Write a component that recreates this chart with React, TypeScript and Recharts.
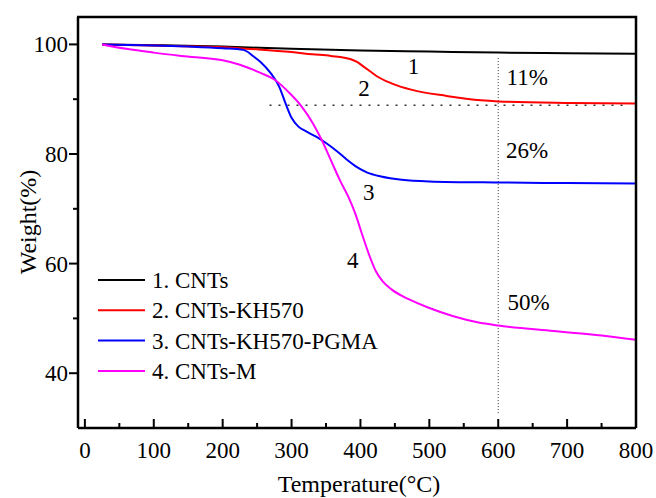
import React from "react"
import { LineChart, Line, XAxis, YAxis, ReferenceLine, ReferenceDot } from "recharts"

const FONT = "Liberation Serif, Times New Roman, serif"

// temperature (°C) and weight (%)
const cntsT = [25, 100, 200, 300, 400, 500, 600, 700, 800]
const cntsW = [100, 99.85, 99.6, 99.2, 98.9, 98.7, 98.5, 98.4, 98.3]

const kh570T = [25, 100, 200, 250, 300, 330, 357, 386, 395, 405, 415, 425, 445, 475, 525, 575, 600, 700, 800]
const kh570W = [100, 99.8, 99.5, 99.1, 98.6, 98.2, 97.9, 97.3, 96.8, 95.9, 95.0, 94.1, 92.9, 91.7, 90.6, 89.8, 89.6, 89.3, 89.2]

const pgmaT = [25, 100, 150, 200, 230, 245, 255, 270, 282, 292, 300, 310, 320, 335, 350, 365, 380, 395, 410, 430, 460, 500, 600, 700, 800]
const pgmaW = [100, 99.8, 99.6, 99.3, 99.0, 97.8, 96.8, 94.7, 92.3, 89.0, 86.6, 85.0, 84.2, 83.2, 82.0, 80.6, 79.0, 77.6, 76.6, 75.9, 75.3, 75.0, 74.8, 74.7, 74.6]

const cntsMT = [25, 60, 100, 140, 200, 225, 255, 275, 298, 315, 330, 344, 358, 371, 382, 392, 402, 412, 422, 432, 445, 470, 500, 535, 570, 600, 680, 750, 800]
const cntsMW = [100, 99.2, 98.5, 97.9, 97.1, 96.3, 94.8, 93.6, 91.0, 88.6, 85.8, 82.5, 78.6, 75.0, 72.3, 69.3, 65.5, 61.8, 58.7, 56.8, 55.3, 53.5, 51.9, 50.4, 49.3, 48.7, 47.7, 46.9, 46.1]

const seriesNames = ["1. CNTs", "2. CNTs-KH570", "3. CNTs-KH570-PGMA", "4. CNTs-M"]
const seriesColors = ["#000000", "#ff0000", "#0000ff", "#ff00ff"]

const xTicks = [0, 50, 100, 150, 200, 250, 300, 350, 400, 450, 500, 550, 600, 650, 700, 750, 800]
const yTicks = [40, 50, 60, 70, 80, 90, 100]

// curve number labels and residue percentages
const notes = [
  { t: 477, w: 96.1, text: "1" },
  { t: 405, w: 92.0, text: "2" },
  { t: 412, w: 73.1, text: "3" },
  { t: 389, w: 60.6, text: "4" },
  { t: 642, w: 94.0, text: "11%" },
  { t: 642, w: 80.7, text: "26%" },
  { t: 644, w: 53.0, text: "50%" },
]

const zip = (ts: number[], ws: number[]) => ts.map((t, i) => ({ t, w: ws[i] }))
const series = [zip(cntsT, cntsW), zip(kh570T, kh570W), zip(pgmaT, pgmaW), zip(cntsMT, cntsMW)]

const XTick = (props: any) => {
  const { x, y, payload } = props
  const major = payload.value % 100 === 0
  return (
    <g>
      <line x1={x} x2={x} y1={y} y2={y - (major ? 9 : 5)} stroke="#000" strokeWidth={2} />
      {major && (
        <text x={x} y={y + 30} textAnchor="middle" fontSize={23} fontFamily={FONT} fill="#000">
          {payload.value}
        </text>
      )}
    </g>
  )
}

const YTick = (props: any) => {
  const { x, y, payload } = props
  const major = payload.value % 20 === 0
  return (
    <g>
      <line x1={x} x2={x - (major ? 9 : 5)} y1={y} y2={y} stroke="#000" strokeWidth={2} />
      {major && (
        <text x={x - 10} y={y + 8} textAnchor="end" fontSize={23} fontFamily={FONT} fill="#000">
          {payload.value}
        </text>
      )}
    </g>
  )
}

const Note = (text: string) => (props: any) => {
  const { viewBox } = props
  const cx = viewBox.x + (viewBox.width || 0) / 2
  const cy = viewBox.y + (viewBox.height || 0) / 2
  return (
    <text x={cx} y={cy + 8} textAnchor="middle" fontSize={23} fontFamily={FONT} fill="#000">
      {text}
    </text>
  )
}

function Overlay() {
  return (
    <svg width={656} height={498} style={{ position: "absolute", left: 0, top: 0, pointerEvents: "none" }}>
      {/* top and right edges of the plot frame */}
      <polyline points="77,17 636,17 636,428" fill="none" stroke="#000" strokeWidth={2.5} />
      {seriesNames.map((name, i) => (
        <g key={name}>
          <line x1={98} x2={145} y1={280 + i * 30.3} y2={280 + i * 30.3} stroke={seriesColors[i]} strokeWidth={2} />
          <text x={152} y={288 + i * 30.3} fontSize={23} fontFamily={FONT} fill="#000">
            {name}
          </text>
        </g>
      ))}
    </svg>
  )
}

export default function App() {
  return (
    <div style={{ position: "absolute", left: 0, top: 0, width: 656, height: 498, background: "#fff" }}>
      <LineChart width={656} height={498} margin={{ top: 17, right: 20, bottom: 0, left: 0 }}>
        <XAxis
          dataKey="t"
          type="number"
          domain={[-10, 800]}
          ticks={xTicks}
          interval={0}
          tick={<XTick />}
          tickSize={0}
          tickMargin={0}
          tickLine={false}
          axisLine={{ stroke: "#000", strokeWidth: 2.5 }}
          height={70}
          allowDataOverflow
          label={{
            content: () => (
              <text x={359} y={492} textAnchor="middle" fontSize={24} fontFamily={FONT} fill="#000">
                Temperature(°C)
              </text>
            ),
          }}
        />
        <YAxis
          dataKey="w"
          type="number"
          domain={[30, 105]}
          ticks={yTicks}
          interval={0}
          tick={<YTick />}
          tickSize={0}
          tickMargin={0}
          tickLine={false}
          axisLine={{ stroke: "#000", strokeWidth: 2.5 }}
          width={78}
          allowDataOverflow
          label={{
            content: () => (
              <text x={36} y={222} transform="rotate(-90 36 222)" textAnchor="middle" fontSize={24} fontFamily={FONT} fill="#000">
                Weight(%)
              </text>
            ),
          }}
        />
        <ReferenceLine segment={[{ x: 600, y: 97.5 }, { x: 600, y: 32.6 }]} stroke="#333" strokeWidth={1} strokeDasharray="1 2" />
        <ReferenceLine segment={[{ x: 268, y: 88.9 }, { x: 781, y: 88.9 }]} stroke="#333" strokeWidth={1.3} strokeDasharray="2 7" />
        {series.map((pts, i) => (
          <Line
            key={seriesNames[i]}
            data={pts}
            dataKey="w"
            name={seriesNames[i]}
            type="monotone"
            stroke={seriesColors[i]}
            strokeWidth={2}
            dot={false}
            isAnimationActive={false}
          />
        ))}
        {notes.map((n) => (
          <ReferenceDot key={n.text} x={n.t} y={n.w} r={0} stroke="none" fill="none" label={{ content: Note(n.text) }} />
        ))}
      </LineChart>
      <Overlay />
    </div>
  )
}
